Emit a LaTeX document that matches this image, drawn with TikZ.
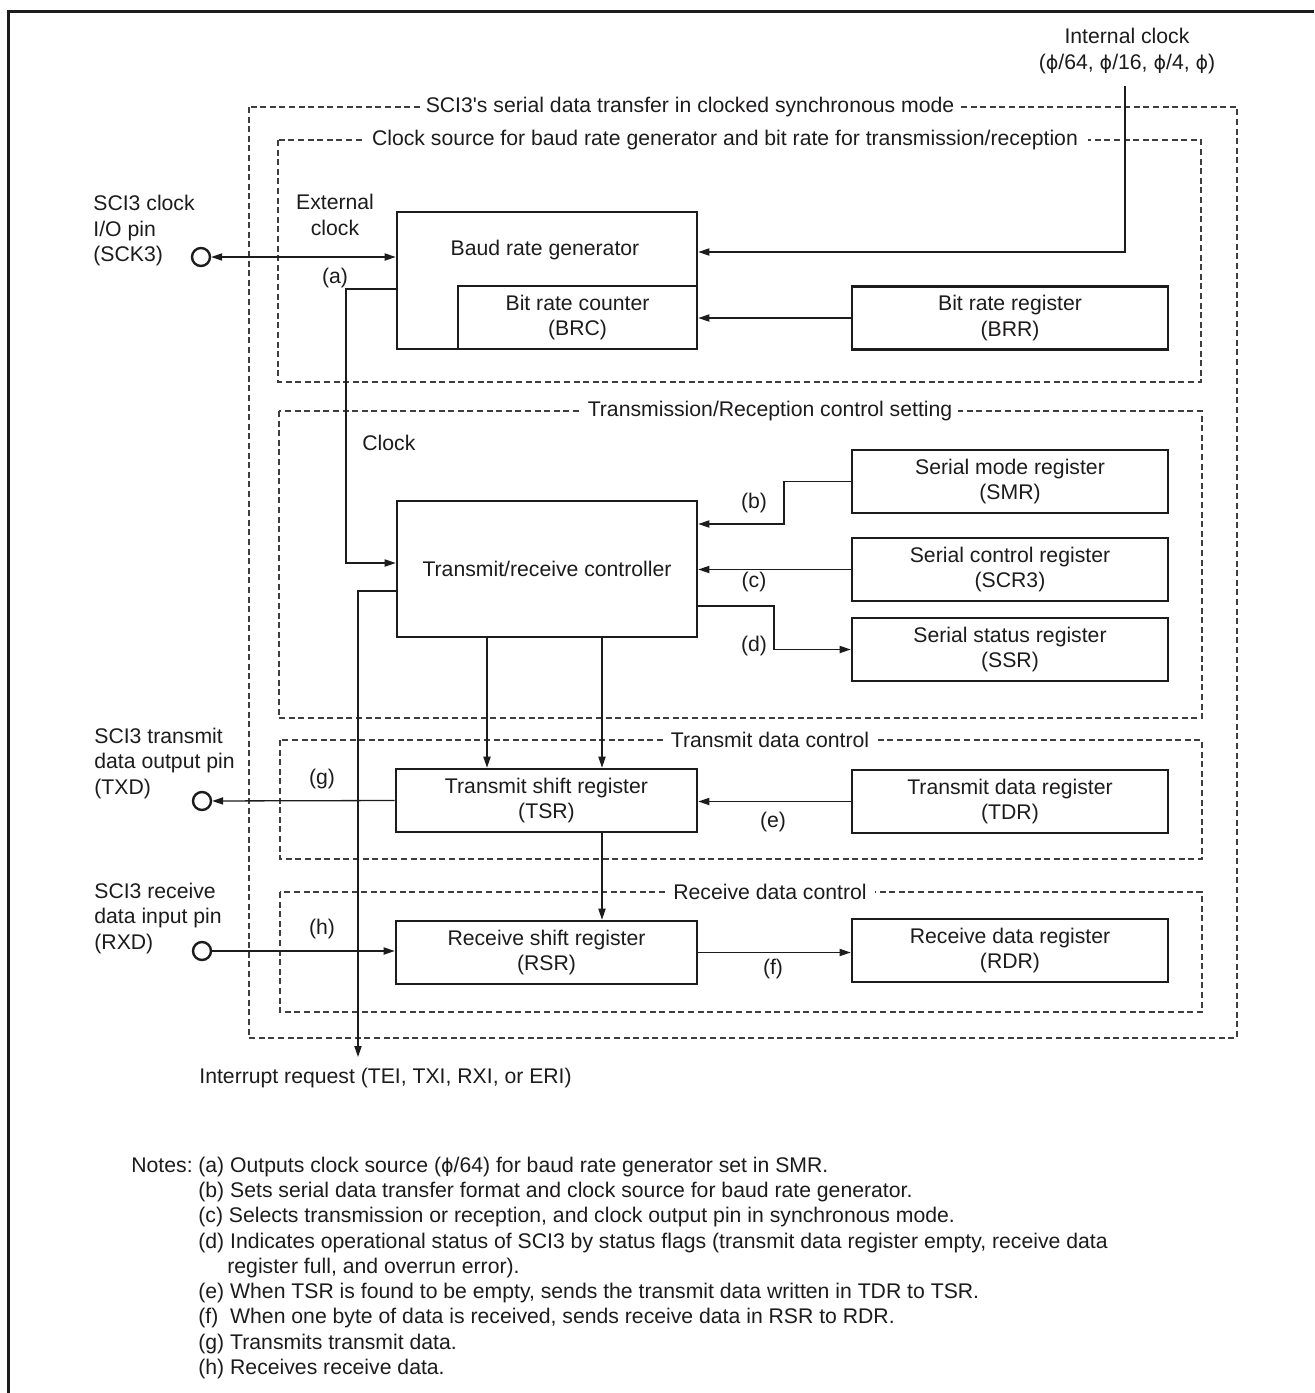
\documentclass[tikz,border=0pt]{standalone}
\usepackage{fontspec}
\setmainfont{Liberation Sans}
\newfontfamily\phifont[Scale=0.9]{DejaVu Sans}
\newcommand\ph{{\phifont ϕ}}
\usetikzlibrary{arrows.meta}
\definecolor{ink}{RGB}{30,27,28}
\begin{document}
\begin{tikzpicture}[x=0.5pt,y=-0.5pt,
  every node/.style={font=\fontsize{10.6}{12.75}\selectfont, text=ink, inner sep=0pt},
  box/.style={draw=ink, line width=1.35pt, align=center},
  reg/.style={box, minimum width=158pt, minimum height=31.5pt},
  shreg/.style={box, minimum width=150.5pt, minimum height=31.5pt},
  grp/.style={draw=ink!85, line width=0.55pt, dash pattern=on 3pt off 1.8pt},
  ttl/.style={fill=white, inner xsep=3pt, inner ysep=1pt},
  con/.style={draw=ink, line width=0.65pt},
  arr/.style={con, -{Triangle[length=5.5pt,width=3.6pt]}},
  arrb/.style={con, {Triangle[length=5.5pt,width=3.6pt]}-{Triangle[length=5.5pt,width=3.6pt]}},
  pin/.style={circle, draw=ink, line width=1.2pt, minimum size=9pt},
  note/.style={anchor=base west}]
\useasboundingbox (0,0) rectangle (1314,1393);
\fill[white] (0,0) rectangle (1314,1393);
\draw[ink, line width=1.5pt] (8,1393) -- (8,11) -- (1314,11);

% group frames
\draw[grp] (249,107) rectangle (1237,1038);
\draw[grp] (278,140) rectangle (1201,382);
\draw[grp] (279,411) rectangle (1202,718);
\draw[grp] (280,740) rectangle (1202,859);
\draw[grp] (280,892) rectangle (1202,1012);
\node[ttl, inner xsep=1.5pt] (t1) at (690,107) {SCI3\textquotesingle s serial data transfer in clocked synchronous mode};
\node[ttl, inner xsep=5pt] (t2) at (725,140) {Clock source for baud rate generator and bit rate for transmission/reception};
\node[ttl] (t3) at (770,411) {Transmission/Reception control setting};
\node[ttl, inner xsep=4pt] (t4) at (770,740) {Transmit data control};
\node[ttl, inner xsep=4pt] (t5) at (770,892) {Receive data control};

% top
\node[align=center] (ict) at (1127,51) {Internal clock\\(\ph/64, \ph/16, \ph/4, \ph)};
\coordinate (ic) at (1125,86);

% baud rate generator
\node[box, minimum width=150pt, minimum height=68.5pt] (brg) at (547,280.5) {};
\node (brgt) at (545,250) {Baud rate generator};
\node[box, minimum width=119.5pt, minimum height=31.5pt] (brc) at (577.5,317.5) {Bit rate counter\\(BRC)};
\node[reg] (brr) at (1010,318) {Bit rate register\\(BRR)};

% clock pin
\node[pin] (sck) at (201,257) {};
\node[align=left, anchor=west] (sckt) at (93,231) {SCI3 clock\\I/O pin\\(SCK3)};
\node[align=center] (ext) at (335,215) {External\\clock};
\node (la) at (335,278) {(a)};

% control
\node[box, minimum width=150pt, minimum height=68pt] (trc) at (547,569) {Transmit/receive controller};
\node[anchor=west] (clk) at (362,443) {Clock};
\node[reg] (smr) at (1010,481.5) {Serial mode register\\(SMR)};
\node[reg] (scr) at (1010,569.5) {Serial control register\\(SCR3)};
\node[reg] (ssr) at (1010,649.5) {Serial status register\\(SSR)};
\node (lb) at (754,503) {(b)};
\node (lc) at (754,582) {(c)};
\node (ld) at (754,646) {(d)};

% data
\node[shreg] (tsr) at (546.5,800.5) {Transmit shift register\\(TSR)};
\node[shreg] (rsr) at (546.5,952.5) {Receive shift register\\(RSR)};
\node[reg] (tdr) at (1010,801.5) {Transmit data register\\(TDR)};
\node[reg] (rdr) at (1010,950.5) {Receive data register\\(RDR)};
\node (le) at (773,822) {(e)};
\node (lf) at (773,969) {(f)};
\node (lg) at (322,779) {(g)};
\node (lh) at (322,929) {(h)};
\node[pin] (txd) at (202,801) {};
\node[pin] (rxd) at (202,951) {};
\node[align=left, anchor=west] (txdt) at (94,763.5) {SCI3 transmit\\data output pin\\(TXD)};
\node[align=left, anchor=west] (rxdt) at (94,918) {SCI3 receive\\data input pin\\(RXD)};

% interrupt
\coordinate (irq) at (358,1057);
\node[anchor=west] (irqt) at (199,1078) {Interrupt request (TEI, TXI, RXI, or ERI)};

% connectors
\draw[arr] (ic) |- (brg.east |- 0,252);
\draw[arrb] (sck) -- (brg.west |- sck);
\draw[arr] (brg.west |- 0,289) -- (346,289) -- (346,563) -- (trc.west |- 0,563);
\draw[arr] (brr.west) -- (brc.east |- brr.west);
\draw[arr] (smr.west) -| (784,524) -- (trc.east |- 0,524);
\draw[arr] (scr.west) -- (trc.east |- scr.west);
\draw[arr] (trc.east |- 0,606) -| (774,649.5) -- (ssr.west);
\draw[arr] (trc.south -| 487,0) -- (tsr.north -| 487,0);
\draw[arr] (trc.south -| 602,0) -- (tsr.north -| 602,0);
\draw[arr] (tsr.south -| 602,0) -- (rsr.north -| 602,0);
\draw[arr] (tdr.west) -- (tsr.east |- tdr.west);
\draw[arr] (tsr.west) -- (txd);
\draw[arr] (rxd) -- (rsr.west |- rxd);
\draw[arr] (rsr.east) -- (rdr.west |- rsr.east);
\draw[arr] (trc.west |- 0,591) -| (irq);

% notes
\node[note] (n0) at (131,1172.5) {Notes:};
\node[note] (na) at (198,1172.5) {(a) Outputs clock source (\ph/64) for baud rate generator set in SMR.};
\node[note] (nb) at (198,1197.5) {(b) Sets serial data transfer format and clock source for baud rate generator.};
\node[note] (nc) at (198,1222.5) {(c) Selects transmission or reception, and clock output pin in synchronous mode.};
\node[note] (nd) at (198,1248) {(d) Indicates operational status of SCI3 by status flags (transmit data register empty, receive data};
\node[note] (nd2) at (227,1273) {register full, and overrun error).};
\node[note] (ne) at (198,1298) {(e) When TSR is found to be empty, sends the transmit data written in TDR to TSR.};
\node[note] (nf) at (198,1323) {(f)\ \ When one byte of data is received, sends receive data in RSR to RDR.};
\node[note] (ng) at (198,1349) {(g) Transmits transmit data.};
\node[note] (nh) at (198,1374) {(h) Receives receive data.};
\end{tikzpicture}
\end{document}
